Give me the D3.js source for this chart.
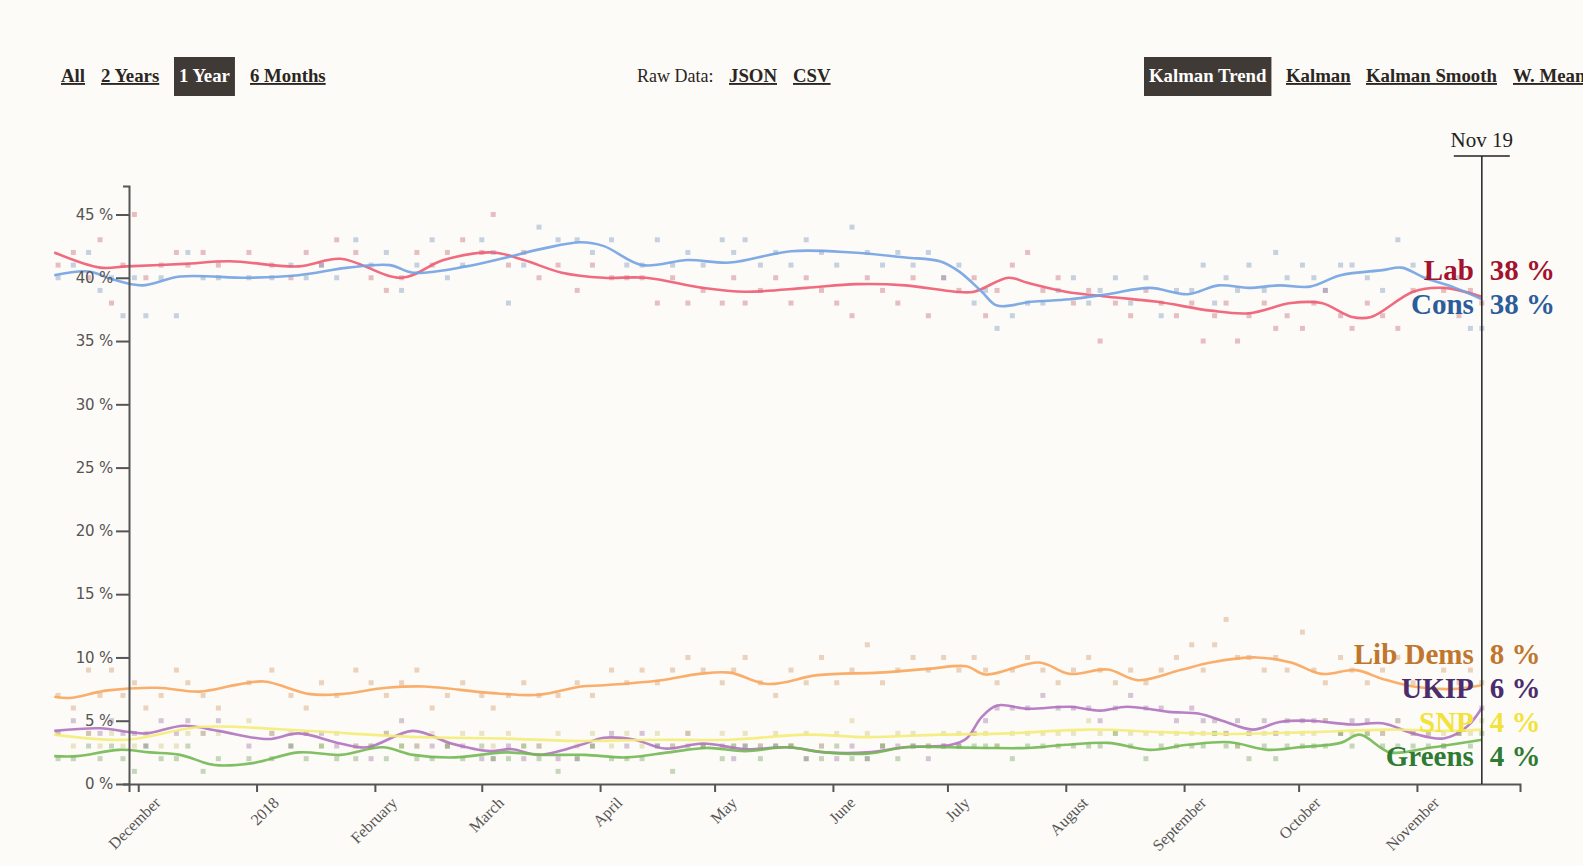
<!DOCTYPE html>
<html>
<head>
<meta charset="utf-8">
<script src="https://cdn.jsdelivr.net/npm/d3@7"></script>
<style>
  body { margin: 0; background: #fdfbf7; }
  svg { display: block; }
</style>
</head>
<body>
<div id="chart"></div>
<script>
// poll data (integer %), one entry per poll
var pollDates = ["2017-11-10","2017-11-14","2017-11-18","2017-11-21","2017-11-24","2017-11-27","2017-11-30","2017-12-03","2017-12-07","2017-12-11",
  "2017-12-14","2017-12-18","2017-12-22","2017-12-30","2018-01-05","2018-01-10","2018-01-14","2018-01-18","2018-01-22","2018-01-27",
  "2018-01-31","2018-02-04","2018-02-08","2018-02-12","2018-02-16","2018-02-20","2018-02-24","2018-03-01","2018-03-04","2018-03-08",
  "2018-03-12","2018-03-16","2018-03-21","2018-03-26","2018-03-30","2018-04-04","2018-04-08","2018-04-12","2018-04-16","2018-04-20",
  "2018-04-24","2018-04-28","2018-05-03","2018-05-06","2018-05-09","2018-05-13","2018-05-17","2018-05-21","2018-05-25","2018-05-29",
  "2018-06-02","2018-06-06","2018-06-10","2018-06-14","2018-06-18","2018-06-22","2018-06-26","2018-06-30","2018-07-04","2018-07-08",
  "2018-07-11","2018-07-14","2018-07-18","2018-07-22","2018-07-26","2018-07-30","2018-08-03","2018-08-07","2018-08-10","2018-08-14",
  "2018-08-18","2018-08-22","2018-08-26","2018-08-30","2018-09-03","2018-09-06","2018-09-09","2018-09-12","2018-09-15","2018-09-18",
  "2018-09-22","2018-09-25","2018-09-28","2018-10-02","2018-10-05","2018-10-08","2018-10-12","2018-10-15","2018-10-19","2018-10-23",
  "2018-10-27","2018-10-31","2018-11-04","2018-11-08","2018-11-12","2018-11-15","2018-11-18"];
var pollLab = [41,42,40,43,38,41,45,40,41,42, 41,42,41,42,41,40,42,41,43,42, 40,39,40,42,41,42,43,42,45,41,
  42,40,41,39,41,40,40,40,38,40, 38,39,38,40,38,39,40,38,40,39, 38,37,40,39,38,40,37,40,39,40,
  37,39,41,42,39,40,38,39,35,38, 37,39,38,37,38,35,37,38,35,37, 38,36,37,36,38,39,37,36,38,37, 36,39,40,39,37,39,38];
var pollCon = [40,41,42,39,40,37,40,37,40,37, 42,40,40,40,40,41,40,41,40,43, 41,42,39,41,43,40,41,43,42,38,
  41,44,43,43,42,43,41,41,43,41, 42,41,43,42,43,41,42,41,43,42, 41,44,42,41,42,41,42,40,41,38,
  39,36,37,38,38,39,40,38,39,40, 38,40,37,39,39,41,38,40,39,41, 39,42,40,41,40,39,41,41,40,39, 43,41,40,38,40,36,36];
var pollLD = [7,6,9,7,9,7,8,6,7,9, 8,7,6,8,9,7,6,8,7,9, 8,7,8,9,6,7,8,7,6,7,
  8,7,7,8,7,9,8,9,8,9, 10,9,8,9,10,8,7,9,8,10, 8,9,11,8,9,10,9,10,9,10,
  9,8,9,10,9,8,9,10,9,8, 9,8,9,10,11,9,11,13,10,10, 9,10,9,12,9,8,10,9,8,9, 10,8,7,9,8,9,8];
var pollUKIP = [4,5,4,4,5,4,4,3,5,4, 5,4,5,3,4,3,4,4,3,3, 2,4,5,3,3,3,3,2,2,3,
  2,3,2,2,3,4,3,4,3,3, 4,3,3,2,3,3,3,3,2,3, 2,3,2,3,3,3,2,3,3,4,
  5,6,6,6,7,6,6,6,5,6, 7,6,6,5,6,5,5,4,5,4, 5,4,5,5,5,5,4,5,5,4, 5,4,4,3,4,5,6];
var pollSNP = [4,3,4,3,4,3,3,4,3,3, 4,4,4,5,4,4,4,3,4,3, 3,4,3,3,4,3,4,4,3,4,
  3,3,4,3,4,3,4,3,4,3, 4,3,4,3,4,3,4,3,4,3, 4,5,4,3,4,4,3,4,4,4,
  4,3,4,4,4,4,4,5,4,4, 4,4,4,4,4,4,4,4,3,4, 4,4,4,4,4,5,4,4,4,4, 5,4,4,4,4,4,5];
var pollGrn = [2,2,3,2,3,2,1,3,2,2, 3,1,2,2,2,3,2,3,2,2, 3,2,3,2,2,3,2,3,2,2,
  3,2,1,2,3,2,2,2,3,1, 3,3,2,3,3,2,3,3,2,2, 3,2,2,3,2,3,3,3,3,3,
  3,3,2,3,3,3,3,3,3,4, 3,2,3,3,3,3,4,3,3,2, 3,2,3,3,3,3,4,3,4,3, 3,3,3,3,4,3,4];

// Kalman trend: [date, %]
var labTrend = [["2017-11-09",42.0],["2017-11-21",40.8],["2017-11-28",40.9],["2017-12-13",41.1],["2017-12-25",41.3],["2018-01-12",40.9],
  ["2018-01-23",41.5],["2018-02-08",40.0],["2018-02-19",41.4],["2018-03-04",42.0],["2018-03-12",41.4],["2018-03-22",40.4],
  ["2018-04-02",40.0],["2018-04-13",40.0],["2018-04-28",39.2],["2018-05-09",38.9],["2018-05-25",39.2],["2018-06-07",39.5],
  ["2018-06-20",39.4],["2018-07-03",38.9],["2018-07-08",38.9],["2018-07-17",40.0],["2018-07-22",39.6],["2018-08-01",38.9],
  ["2018-08-12",38.5],["2018-08-25",38.1],["2018-09-08",37.4],["2018-09-18",37.2],["2018-09-29",38.0],["2018-10-07",38.0],
  ["2018-10-15",36.9],["2018-10-20",36.9],["2018-10-31",38.9],["2018-11-08",39.2],["2018-11-18",38.5]];
var conTrend = [["2017-11-09",40.2],["2017-11-18",40.5],["2017-11-24",39.9],["2017-12-02",39.4],["2017-12-12",40.1],["2017-12-30",40.0],
  ["2018-01-12",40.2],["2018-01-25",40.8],["2018-02-05",41.0],["2018-02-11",40.4],["2018-02-25",40.9],["2018-03-06",41.5],
  ["2018-03-17",42.3],["2018-03-27",42.8],["2018-04-02",42.5],["2018-04-12",41.0],["2018-04-24",41.4],["2018-05-05",41.2],
  ["2018-05-21",42.1],["2018-06-06",42.0],["2018-06-20",41.6],["2018-06-29",41.3],["2018-07-04",40.5],["2018-07-10",38.9],
  ["2018-07-14",37.8],["2018-07-23",38.1],["2018-08-02",38.3],["2018-08-12",38.7],["2018-08-23",39.2],["2018-09-02",38.7],
  ["2018-09-10",39.4],["2018-09-18",39.2],["2018-09-26",39.4],["2018-10-04",39.3],["2018-10-12",40.2],["2018-10-23",40.6],
  ["2018-10-28",40.8],["2018-11-03",40.0],["2018-11-11",39.2],["2018-11-18",38.3]];
var ldTrend = [["2017-11-09",6.9],["2017-11-13",6.8],["2017-11-23",7.4],["2017-12-06",7.6],["2017-12-17",7.3],["2017-12-27",7.85],
  ["2018-01-03",8.1],["2018-01-15",7.1],["2018-01-23",7.1],["2018-02-04",7.6],["2018-02-14",7.7],["2018-03-03",7.2],
  ["2018-03-16",7.05],["2018-03-27",7.7],["2018-04-02",7.8],["2018-04-17",8.2],["2018-04-27",8.7],["2018-05-05",8.8],
  ["2018-05-15",7.9],["2018-05-28",8.6],["2018-06-13",8.8],["2018-06-26",9.1],["2018-07-06",9.3],["2018-07-11",8.65],
  ["2018-07-25",9.6],["2018-08-02",8.7],["2018-08-12",9.05],["2018-08-20",8.2],["2018-08-31",9.0],["2018-09-08",9.6],
  ["2018-09-20",10.0],["2018-09-29",9.6],["2018-10-07",8.7],["2018-10-16",9.0],["2018-10-23",8.3],["2018-10-31",7.7],
  ["2018-11-10",7.5],["2018-11-18",7.8]];
var ukipTrend = [["2017-11-09",4.2],["2017-11-21",4.4],["2017-11-29",4.1],["2017-12-03",4.0],["2017-12-13",4.6],["2017-12-22",4.2],
  ["2018-01-04",3.55],["2018-01-12",4.0],["2018-01-23",3.2],["2018-01-30",2.9],["2018-02-11",4.2],["2018-02-21",3.2],
  ["2018-03-03",2.6],["2018-03-09",2.75],["2018-03-16",2.3],["2018-03-27",3.1],["2018-04-02",3.65],["2018-04-10",3.5],
  ["2018-04-18",2.8],["2018-04-28",3.2],["2018-05-09",2.75],["2018-05-20",2.9],["2018-05-30",2.5],["2018-06-10",2.5],
  ["2018-06-20",2.9],["2018-07-02",3.1],["2018-07-06",3.6],["2018-07-10",5.3],["2018-07-14",6.2],["2018-07-22",5.95],
  ["2018-08-02",6.1],["2018-08-10",5.8],["2018-08-17",6.1],["2018-08-28",5.7],["2018-09-05",5.55],["2018-09-11",5.0],
  ["2018-09-19",4.3],["2018-09-26",4.9],["2018-10-04",5.0],["2018-10-15",4.7],["2018-10-23",4.8],["2018-10-31",4.0],
  ["2018-11-08",3.6],["2018-11-14",4.5],["2018-11-18",6.0]];
var snpTrend = [["2017-11-09",3.9],["2017-11-28",3.5],["2017-12-17",4.5],["2018-01-06",4.35],["2018-01-25",4.0],["2018-02-13",3.7],
  ["2018-03-06",3.6],["2018-03-27",3.4],["2018-04-15",3.5],["2018-05-05",3.5],["2018-05-25",3.9],["2018-06-10",3.7],
  ["2018-06-29",3.9],["2018-07-17",4.0],["2018-08-07",4.3],["2018-08-26",4.1],["2018-09-12",3.95],["2018-10-04",4.1],
  ["2018-10-25",4.3],["2018-11-10",4.2],["2018-11-18",4.3]];
var grnTrend = [["2017-11-09",2.2],["2017-11-15",2.2],["2017-11-26",2.7],["2017-12-04",2.5],["2017-12-12",2.3],["2017-12-21",1.5],
  ["2017-12-31",1.65],["2018-01-12",2.5],["2018-01-23",2.3],["2018-02-03",2.9],["2018-02-11",2.3],["2018-02-22",2.1],
  ["2018-03-07",2.5],["2018-03-17",2.3],["2018-03-28",2.3],["2018-04-08",2.1],["2018-04-19",2.5],["2018-04-29",2.85],
  ["2018-05-09",2.6],["2018-05-20",2.9],["2018-05-30",2.5],["2018-06-10",2.4],["2018-06-20",2.9],["2018-07-01",2.9],
  ["2018-07-11",2.85],["2018-07-22",2.85],["2018-08-01",3.1],["2018-08-12",3.25],["2018-08-23",2.7],["2018-09-02",3.1],
  ["2018-09-13",3.3],["2018-09-23",2.7],["2018-10-01",2.9],["2018-10-12",3.25],["2018-10-17",3.9],["2018-10-25",2.5],
  ["2018-11-04",2.85],["2018-11-18",3.5]];

var parties = [
  {name: "Lab",      polls: pollLab,  trend: labTrend,  line: "#ee5a72", label: "#a3122f", shown: 38},
  {name: "Cons",     polls: pollCon,  trend: conTrend,  line: "#72a2e2", label: "#2c5d9a", shown: 38},
  {name: "Lib Dems", polls: pollLD,   trend: ldTrend,   line: "#f9a55c", label: "#c0762c", shown: 8},
  {name: "UKIP",     polls: pollUKIP, trend: ukipTrend, line: "#b072bf", label: "#4b2c6c", shown: 6},
  {name: "SNP",      polls: pollSNP,  trend: snpTrend,  line: "#f4ec78", label: "#f2e33c", shown: 4},
  {name: "Greens",   polls: pollGrn,  trend: grnTrend,  line: "#72b852", label: "#2f7b33", shown: 4}
];

var width = 1583, height = 866;
var parse = d3.timeParse("%Y-%m-%d");
var lastDay = parse("2018-11-18");   // the marker sits at the last trend day
var todayLabel = "Nov 19";

var svg = d3.select("#chart").append("svg")
  .attr("width", width)
  .attr("height", height);

svg.append("rect")
  .attr("width", width).attr("height", height)
  .attr("fill", "#fdfbf7");

// TOP CONTROLS
var ctrlY = 82;
function ctrl(x, txt, active) {
  var g = svg.append("g").attr("transform", "translate(" + x + "," + ctrlY + ")");
  var t = g.append("text")
    .attr("font-family", "'Liberation Serif', serif")
    .attr("font-weight", "bold")
    .attr("font-size", 18.8)
    .attr("fill", active ? "#ffffff" : "#2b2622")
    .attr("text-decoration", active ? "none" : "underline")
    .text(txt);
  if (active) {
    var w = t.node().getComputedTextLength();
    g.insert("rect", "text")
      .attr("x", -5).attr("y", -25)
      .attr("width", w + 10).attr("height", 39)
      .attr("fill", "#3f3a35");
  }
}
ctrl(61, "All");
ctrl(101, "2 Years");
ctrl(179, "1 Year", true);
ctrl(250, "6 Months");
svg.append("text")
  .attr("x", 637).attr("y", ctrlY)
  .attr("font-family", "'Liberation Serif', serif")
  .attr("font-size", 18)
  .attr("fill", "#2b2622")
  .text("Raw Data:");
ctrl(729, "JSON");
ctrl(793, "CSV");
ctrl(1149, "Kalman Trend", true);
ctrl(1286, "Kalman");
ctrl(1366, "Kalman Smooth");
ctrl(1513, "W. Mean");   // runs off the right edge, as on the site

// SCALES
var margin = {left: 129, right: 63, top: 186, bottom: 82};
var x = d3.scaleTime()
  .domain([d3.timeParse("%Y-%m-%d %H")("2017-11-28 14"), parse("2018-11-28")])
  .range([margin.left, width - margin.right]);
var y = d3.scaleLinear()
  .domain([0, 45 * 1.05])
  .range([height - margin.bottom, margin.top]);

// POLL DOTS
parties.forEach(function(p) {
  svg.append("g")
    .attr("class", "polls")
    .selectAll("rect")
    .data(p.polls)
    .enter()
    .append("rect")
    .attr("x", function(d, i) { return x(parse(pollDates[i])) - 2.5; })
    .attr("y", function(d) { return y(d) - 2.5; })
    .attr("width", 5).attr("height", 5)
    .attr("fill", d3.interpolateRgb(p.line, "#777")(0.35))
    .attr("opacity", 0.4);
});

// TREND LINES
var line = d3.line()
  .x(function(d) { return x(parse(d[0])); })
  .y(function(d) { return y(d[1]); })
  .curve(d3.curveCatmullRom.alpha(0.5));

parties.forEach(function(p) {
  svg.append("path")
    .attr("d", line(p.trend))
    .attr("fill", "none")
    .attr("stroke", p.line)
    .attr("stroke-width", 2.6)
    .attr("opacity", 0.9);
});

// AXES
var yAxis = svg.append("g")
  .attr("transform", "translate(" + margin.left + ",0)")
  .call(d3.axisLeft(y)
    .tickValues(d3.range(0, 50, 5))
    .tickFormat(function(d) { return d + " %"; })
    .tickSize(13).tickSizeOuter(6).tickPadding(3));
yAxis.selectAll("text")
  .attr("font-family", "'DejaVu Sans', sans-serif")
  .attr("font-size", 15)
  .attr("fill", "#555")
  .attr("letter-spacing", -0.2);

var xAxis = svg.append("g")
  .attr("transform", "translate(0," + (height - margin.bottom) + ")")
  .call(d3.axisBottom(x)
    .ticks(d3.timeMonth.every(1))
    .tickFormat(function(d) { return d.getMonth() === 0 ? d3.timeFormat("%Y")(d) : d3.timeFormat("%B")(d); })
    .tickSize(8).tickSizeOuter(8));
xAxis.selectAll("text")
  .attr("font-family", "'Liberation Serif', serif")
  .attr("font-size", 16)
  .attr("fill", "#555")
  .attr("text-anchor", "end")
  .attr("transform", "translate(11,8) rotate(-45)")
  .attr("dy", "0.35em");

[yAxis, xAxis].forEach(function(a) {
  a.selectAll(".domain, line").attr("stroke", "#555").attr("stroke-width", 2);
});

// TODAY MARKER
var tx = x(lastDay);
svg.append("line")
  .attr("x1", tx).attr("x2", tx)
  .attr("y1", 156).attr("y2", height - margin.bottom)
  .attr("stroke", "#222").attr("stroke-width", 1.5);
svg.append("line")
  .attr("x1", tx - 28).attr("x2", tx + 28)
  .attr("y1", 156).attr("y2", 156)
  .attr("stroke", "#222").attr("stroke-width", 1.5);
svg.append("text")
  .attr("x", tx).attr("y", 147)
  .attr("text-anchor", "middle")
  .attr("font-family", "'Liberation Serif', serif")
  .attr("font-size", 21)
  .attr("fill", "#222")
  .text(todayLabel);

// END LABELS, spread so they do not overlap
var labels = parties.map(function(p) {
  var last = p.trend[p.trend.length - 1];
  return {p: p, y: y(last[1])};
});
labels.sort(function(a, b) { return a.y - b.y; });
for (var it = 0; it < 200; it++) {
  for (var i = 1; i < labels.length; i++) {
    var gap = labels[i].y - labels[i - 1].y;
    if (gap < 34) {
      var push = (34 - gap) / 2;
      labels[i].y += push;
      labels[i - 1].y -= push;
    }
  }
}
labels.forEach(function(l) {
  svg.append("text")
    .attr("x", tx - 8).attr("y", l.y - 1)
    .attr("text-anchor", "end")
    .attr("font-family", "'Liberation Serif', serif")
    .attr("font-weight", "bold")
    .attr("font-size", 29)
    .attr("fill", l.p.label)
    .text(l.p.name);
  svg.append("text")
    .attr("x", tx + 8).attr("y", l.y - 1)
    .attr("font-family", "'Liberation Serif', serif")
    .attr("font-weight", "bold")
    .attr("font-size", 29)
    .attr("fill", l.p.label)
    .text(l.p.shown + " %");
});
</script>
</body>
</html>
